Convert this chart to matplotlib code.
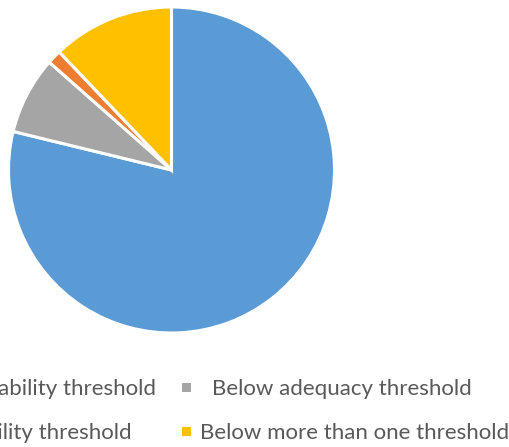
import matplotlib.pyplot as plt
from matplotlib.patches import Rectangle

W, H = 509, 447

labels = ["Below affordability threshold", "Below adequacy threshold",
          "Below accessibility threshold", "Below more than one threshold"]
shares = [78.8, 7.7, 1.4, 12.1]
colors = ["#5B9BD5", "#A5A5A5", "#ED7D31", "#FFC000"]
TEXT = "#595959"

plt.rcParams['font.family'] = ['Lato', 'DejaVu Sans']

fig = plt.figure(figsize=(W / 100, H / 100), dpi=100)

# pie area in pixels (left, top, size)
px_left, px_top, px_size = 8.5, 7, 326
ax = fig.add_axes([px_left / W, 1 - (px_top + px_size) / H, px_size / W, px_size / H])
ax.pie(shares, colors=colors, startangle=90, counterclock=False, radius=1,
       wedgeprops=dict(edgecolor="white", linewidth=2.2))
ax.set_xlim(-1, 1)
ax.set_ylim(-1, 1)
ax.set_aspect('equal')
ax.axis('off')

def fx(x):
    return x / W

def fy(y):
    return 1 - y / H

# legend, two rows of two entries, left column running off the edge
fs = 16
rows = [395, 439]
# left column: text ends at these x positions
fig.text(fx(156), fy(rows[0]), labels[0], ha='right', va='baseline', fontsize=fs, color=TEXT)
fig.text(fx(132), fy(rows[1]), labels[2], ha='right', va='baseline', fontsize=fs, color=TEXT)
# right column
for r, lab, col, tx in [(0, labels[1], colors[1], 212), (1, labels[3], colors[3], 200)]:
    yb = rows[r]
    fig.add_artist(Rectangle((fx(182), fy(yb - 3)), fx(9), 9 / H, transform=fig.transFigure,
                             facecolor=col, edgecolor='none'))
    fig.text(fx(tx), fy(yb), lab, ha='left', va='baseline', fontsize=fs, color=TEXT)

fig.savefig("out.png", dpi=100)
